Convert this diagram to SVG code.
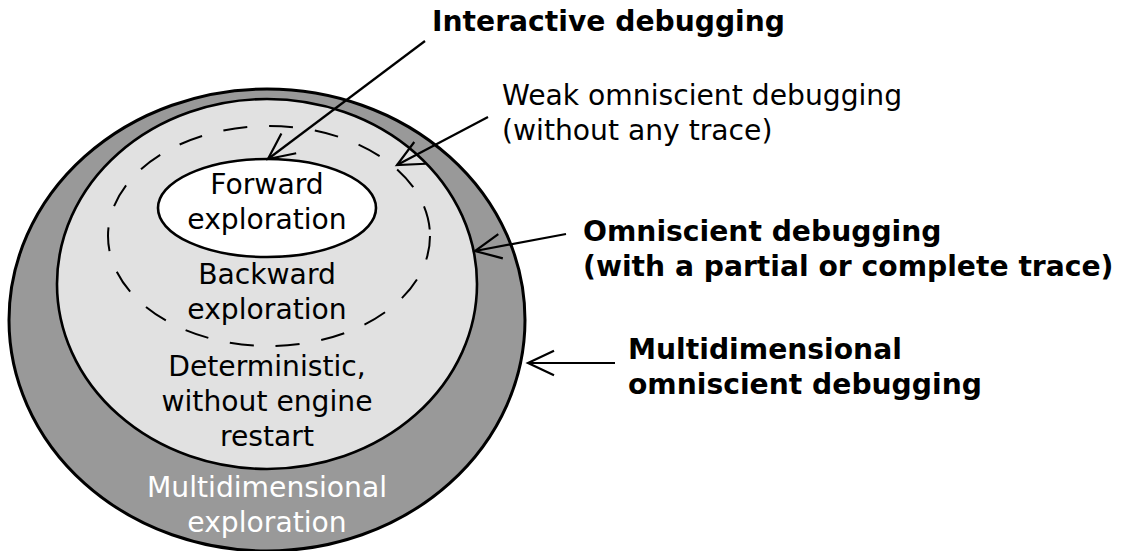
<svg xmlns="http://www.w3.org/2000/svg" width="1125" height="551" viewBox="0 0 1125 551">
<style>
text{font-family:"DejaVu Sans","Liberation Sans",sans-serif;font-size:28.2px;fill:#000}
.c{text-anchor:middle}
.b{font-weight:bold}
.w{fill:#fff}
.conn{fill:none;stroke:#000;stroke-width:2.2;marker-end:url(#open)}
</style>
<defs>
<marker id="open" markerUnits="userSpaceOnUse" orient="auto" markerWidth="60" markerHeight="60" refX="0" refY="0" viewBox="-30 -30 60 60" overflow="visible">
<path d="M-26,-12.3 L0,0 L-26,12.3" fill="none" stroke="#000" stroke-width="2.2"/>
</marker>
</defs>
<rect width="1125" height="551" fill="#fff"/>
<g id="multidimensional">
<ellipse cx="267" cy="320" rx="258" ry="231" fill="#999999" stroke="#000" stroke-width="3"/>
<text class="c w" x="267" y="497">Multidimensional</text>
<text class="c w" x="267" y="532">exploration</text>
</g>
<g id="deterministic">
<ellipse cx="267" cy="284" rx="210" ry="185" fill="#e1e1e1" stroke="#000" stroke-width="2.6"/>
<text class="c" x="267" y="376">Deterministic,</text>
<text class="c" x="267" y="411">without engine</text>
<text class="c" x="267" y="446">restart</text>
</g>
<g id="backward">
<ellipse cx="269" cy="236" rx="161" ry="110" fill="none" stroke="#000" stroke-width="2" stroke-dasharray="24,22"/>
<text class="c" x="267" y="284">Backward</text>
<text class="c" x="267" y="319">exploration</text>
</g>
<g id="forward">
<ellipse cx="267" cy="208" rx="109" ry="49" fill="#fff" stroke="#000" stroke-width="2.6"/>
<text class="c" x="267" y="194">Forward</text>
<text class="c" x="267" y="229">exploration</text>
</g>
<g id="label-interactive">
<text class="b" x="432" y="31">Interactive debugging</text>
</g>
<g id="label-weak">
<text x="502" y="105">Weak omniscient debugging</text>
<text x="502" y="140">(without any trace)</text>
</g>
<g id="label-omniscient">
<text class="b" x="583" y="241">Omniscient debugging</text>
<text class="b" x="583" y="276">(with a partial or complete trace)</text>
</g>
<g id="label-multi">
<text class="b" x="628" y="359">Multidimensional</text>
<text class="b" x="628" y="394">omniscient debugging</text>
</g>
<g id="connectors">
<path class="conn" d="M425,41 L268,159"/>
<path class="conn" d="M488,117 L397,165"/>
<path class="conn" d="M566,234 L475,251"/>
<path class="conn" d="M615,363 L528,363"/>
</g>
</svg>
